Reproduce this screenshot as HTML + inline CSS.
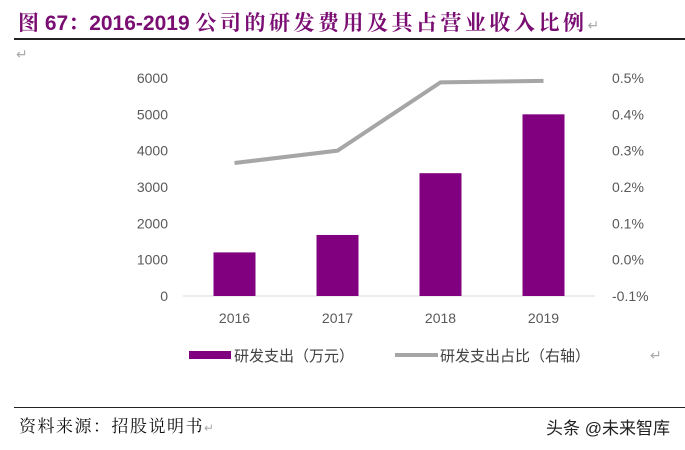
<!DOCTYPE html>
<html><head><meta charset="utf-8"><style>
body{margin:0;width:685px;height:450px;background:#fff;overflow:hidden;position:relative;font-family:"Liberation Sans","Noto Sans CJK SC",sans-serif}
.abs{position:absolute;white-space:nowrap}
</style></head><body>
<div class="abs" style="left:18px;top:7px;font-size:21px;font-weight:bold;color:#7a0d72;font-family:'Liberation Sans','Noto Serif CJK SC',serif">图 67：2016-2019 <span style="letter-spacing:3.5px">公司的研发费用及其占营业收入比例</span><span style="color:#aaa;font-weight:normal;font-size:14px">↵</span></div>
<div class="abs" style="left:14px;top:38px;width:671px;height:2px;background:#222"></div>
<div class="abs" style="left:16px;top:46px;color:#aaa;font-size:14px">↵</div>
<svg class="abs" style="left:0;top:0" width="685" height="450">
<g id="g"></g>
</svg>
<div class="abs" style="left:14px;top:407px;width:671px;height:1px;background:#222"></div>
<div class="abs" style="left:19px;top:412px;font-size:17px;letter-spacing:1.5px;color:#111;font-family:'Noto Serif CJK SC',serif">资料来源：招股说明书<span style="color:#aaa;font-size:12px">↵</span></div>
<div class="abs" style="left:546px;top:414px;font-size:17px;color:#222">头条 @未来智库</div>
<script>
const categories=["2016","2017","2018","2019"];
const spend=[1200,1680,3380,5000];
const ratio=[0.266,0.300,0.488,0.492];
const leftTicks=[0,1000,2000,3000,4000,5000,6000];
const rightTicks=[-0.1,0,0.1,0.2,0.3,0.4,0.5];
const NS="http://www.w3.org/2000/svg";
const g=document.getElementById('g');
const x0=183,x1=595,yb=296,yt=78;
const yL=v=>yb-(v/6000)*(yb-yt);
const yR=v=>yb-((v+0.1)/0.6)*(yb-yt);
const cw=(x1-x0)/categories.length;
const xc=i=>x0+cw*(i+0.5);
function mk(t,a,txt){const e=document.createElementNS(NS,t);for(const k in a)e.setAttribute(k,a[k]);if(txt!==undefined)e.textContent=txt;g.appendChild(e);return e;}
const ax=mk('line',{x1:x0,x2:x1,y1:yb,y2:yb,stroke:'#d9d9d9','stroke-width':1});


leftTicks.forEach(v=>{const t=mk('text',{x:168,y:yL(v)+5,'text-anchor':'end','font-size':14,fill:'#595959'},v);

});
rightTicks.forEach(v=>{const t=mk('text',{x:612,y:yR(v)+5,'font-size':14,fill:'#595959'},v.toFixed(1)+'%');

});
categories.forEach((c,i)=>{const t=mk('text',{x:xc(i),y:yb+27,'text-anchor':'middle','font-size':14,fill:'#595959'},c);


const b=mk('rect',{x:xc(i)-21,y:yL(spend[i]),width:42,height:yb-yL(spend[i]),fill:'#800080'});

});
const ln=mk('polyline',{points:ratio.map((v,i)=>xc(i)+','+yR(v)).join(' '),fill:'none',stroke:'#a6a6a6','stroke-width':4});


const l1=mk('rect',{x:189,y:351,width:42,height:8,fill:'#800080'});


const t1=mk('text',{x:234,y:361,'font-size':15,fill:'#404040'},'研发支出（万元）');


const l2=mk('line',{x1:395,x2:438,y1:355,y2:355,stroke:'#a6a6a6','stroke-width':4});


const t2=mk('text',{x:440,y:361,'font-size':15,fill:'#404040'},'研发支出占比（右轴）');


const t3=mk('text',{x:650,y:360,'font-size':14,fill:'#aaa'},'↵');


</script>
</body></html>
